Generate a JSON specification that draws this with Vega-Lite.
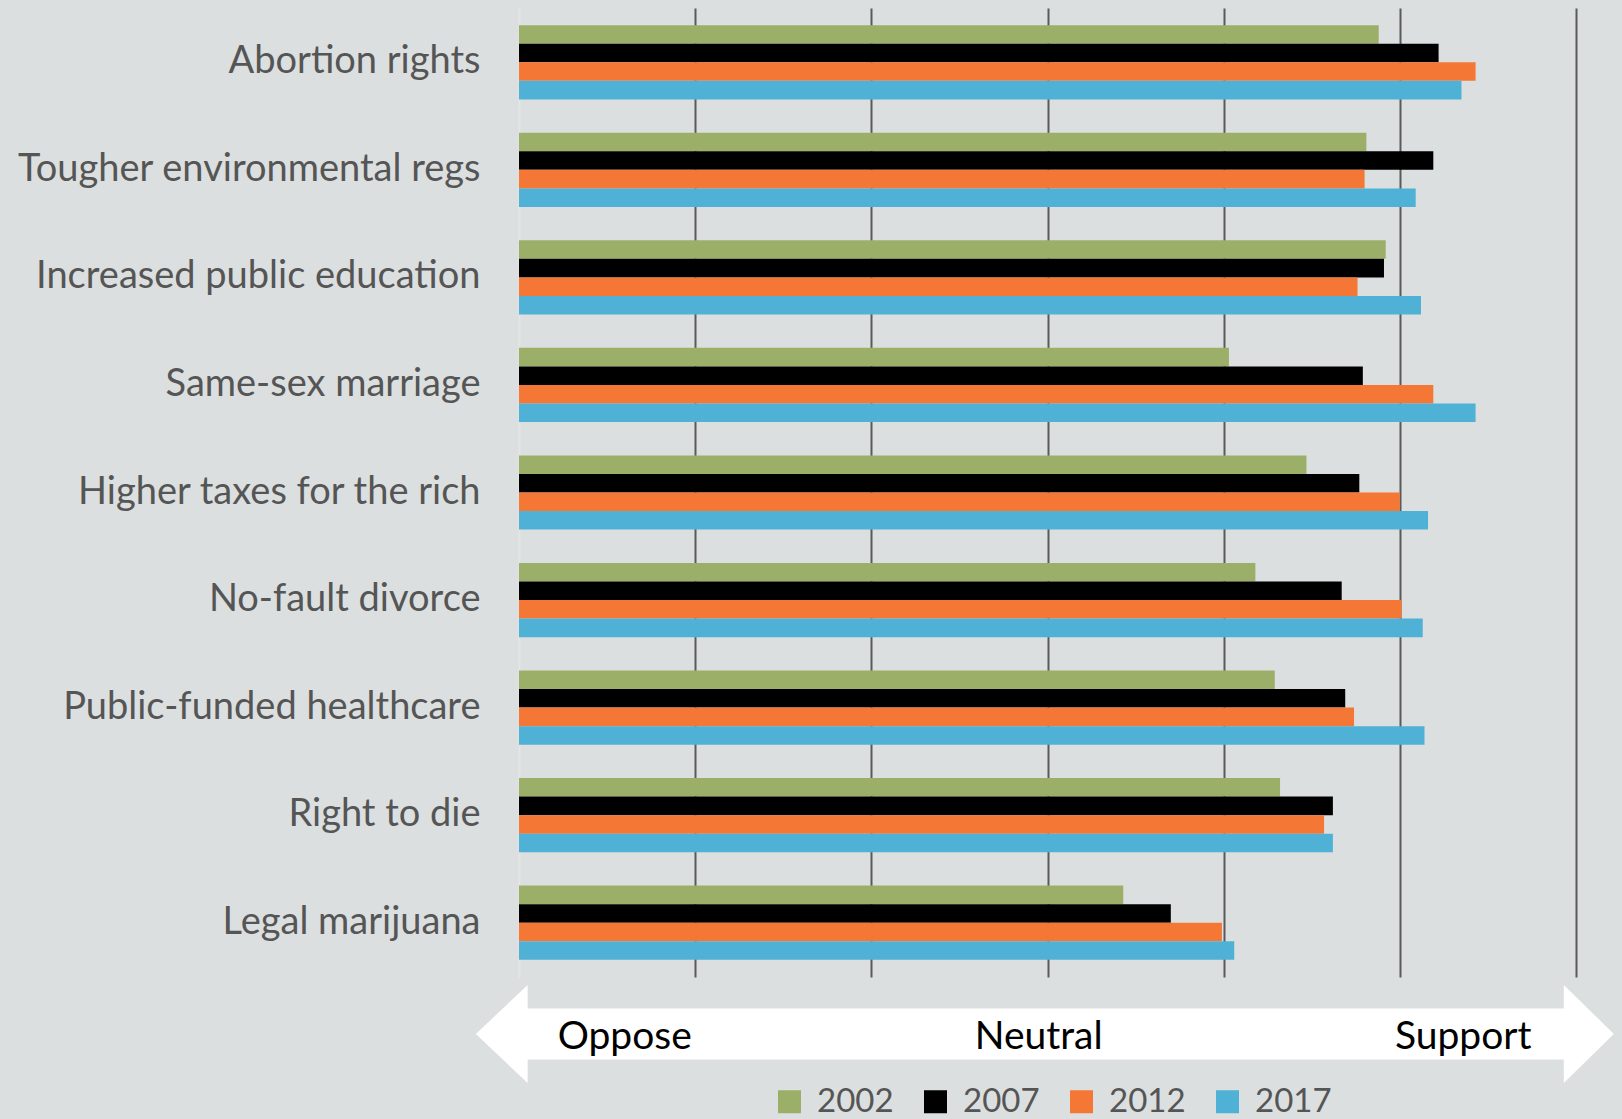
{
  "$schema": "https://vega.github.io/schema/vega-lite/v6.json",
  "width": 1057,
  "height": 969,
  "autosize": {"type": "none"},
  "padding": {"left": 519, "top": 8, "right": 46, "bottom": 142},
  "background": "#dcdfdf",
  "config": {
    "view": {"stroke": null, "fill": null},
    "font": "Lato"
  },
  "datasets": {
    "bars": [
      {"topic": "Abortion rights", "year": "2002", "value": 4.88},
      {"topic": "Abortion rights", "year": "2007", "value": 5.22},
      {"topic": "Abortion rights", "year": "2012", "value": 5.43},
      {"topic": "Abortion rights", "year": "2017", "value": 5.35},
      {"topic": "Tougher environmental regs", "year": "2002", "value": 4.81},
      {"topic": "Tougher environmental regs", "year": "2007", "value": 5.19},
      {"topic": "Tougher environmental regs", "year": "2012", "value": 4.80},
      {"topic": "Tougher environmental regs", "year": "2017", "value": 5.09},
      {"topic": "Increased public education", "year": "2002", "value": 4.92},
      {"topic": "Increased public education", "year": "2007", "value": 4.91},
      {"topic": "Increased public education", "year": "2012", "value": 4.76},
      {"topic": "Increased public education", "year": "2017", "value": 5.12},
      {"topic": "Same-sex marriage", "year": "2002", "value": 4.03},
      {"topic": "Same-sex marriage", "year": "2007", "value": 4.79},
      {"topic": "Same-sex marriage", "year": "2012", "value": 5.19},
      {"topic": "Same-sex marriage", "year": "2017", "value": 5.43},
      {"topic": "Higher taxes for the rich", "year": "2002", "value": 4.47},
      {"topic": "Higher taxes for the rich", "year": "2007", "value": 4.77},
      {"topic": "Higher taxes for the rich", "year": "2012", "value": 5.00},
      {"topic": "Higher taxes for the rich", "year": "2017", "value": 5.16},
      {"topic": "No-fault divorce", "year": "2002", "value": 4.18},
      {"topic": "No-fault divorce", "year": "2007", "value": 4.67},
      {"topic": "No-fault divorce", "year": "2012", "value": 5.01},
      {"topic": "No-fault divorce", "year": "2017", "value": 5.13},
      {"topic": "Public-funded healthcare", "year": "2002", "value": 4.29},
      {"topic": "Public-funded healthcare", "year": "2007", "value": 4.69},
      {"topic": "Public-funded healthcare", "year": "2012", "value": 4.74},
      {"topic": "Public-funded healthcare", "year": "2017", "value": 5.14},
      {"topic": "Right to die", "year": "2002", "value": 4.32},
      {"topic": "Right to die", "year": "2007", "value": 4.62},
      {"topic": "Right to die", "year": "2012", "value": 4.57},
      {"topic": "Right to die", "year": "2017", "value": 4.62},
      {"topic": "Legal marijuana", "year": "2002", "value": 3.43},
      {"topic": "Legal marijuana", "year": "2007", "value": 3.70},
      {"topic": "Legal marijuana", "year": "2012", "value": 3.99},
      {"topic": "Legal marijuana", "year": "2017", "value": 4.06}
    ],
    "arrow": [{"pos": 2.985, "lvl": -0.0588}],
    "scaleLabels": [
      {"label": "Oppose", "pos": 0.6, "lvl": -0.0615},
      {"label": "Neutral", "pos": 2.95, "lvl": -0.0615},
      {"label": "Support", "pos": 5.36, "lvl": -0.0615}
    ]
  },
  "layer": [
    {
      "data": {"name": "bars"},
      "mark": {"type": "bar", "cornerRadius": 0},
      "encoding": {
        "y": {
          "field": "topic",
          "type": "nominal",
          "sort": ["Abortion rights", "Tougher environmental regs", "Increased public education", "Same-sex marriage", "Higher taxes for the rich", "No-fault divorce", "Public-funded healthcare", "Right to die", "Legal marijuana"],
          "scale": {"paddingInner": 0.31, "paddingOuter": 0.16},
          "axis": {
            "title": null,
            "ticks": false,
            "labelPadding": 39,
            "labelFontSize": 38,
            "labelColor": "#555555",
            "labelFont": "Lato",
            "labelLimit": 600,
            "domainColor": "#e4e6e6",
            "domainWidth": 2
          }
        },
        "yOffset": {"field": "year", "type": "nominal", "sort": ["2002", "2007", "2012", "2017"]},
        "x": {
          "field": "value",
          "type": "quantitative",
          "scale": {"domain": [0, 6], "nice": false, "zero": true},
          "axis": {
            "title": null,
            "values": [1, 2, 3, 4, 5, 6],
            "labels": false,
            "ticks": false,
            "domain": false,
            "grid": true,
            "gridColor": "#5a5a5a",
            "gridWidth": 2
          }
        },
        "color": {
          "field": "year",
          "type": "nominal",
          "scale": {"domain": ["2002", "2007", "2012", "2017"], "range": ["#9caf69", "#000000", "#f57735", "#4fb1d6"]},
          "legend": {
            "title": null,
            "orient": "none",
            "direction": "horizontal",
            "legendX": 254,
            "legendY": 1077,
            "symbolType": "square",
            "symbolSize": 529,
            "symbolStrokeWidth": 0,
            "labelFontSize": 33,
            "labelColor": "#555555",
            "labelFont": "Lato",
            "labelOffset": 11,
            "columnPadding": 25
          }
        }
      }
    },
    {
      "data": {"name": "arrow"},
      "mark": {
        "type": "point",
        "filled": true,
        "opacity": 1,
        "color": "#ffffff",
        "shape": "M -1 0 L -0.909 -0.0861 L -0.909 -0.0448 L 0.912 -0.0448 L 0.912 -0.0861 L 1 0 L 0.912 0.0861 L 0.912 0.0448 L -0.909 0.0448 L -0.909 0.0861 Z"
      },
      "encoding": {
        "x": {"field": "pos", "type": "quantitative"},
        "y": {"field": "lvl", "type": "quantitative", "scale": {"domain": [0, 1], "nice": false, "zero": false}, "axis": null},
        "size": {"value": 1295044}
      }
    },
    {
      "data": {"name": "scaleLabels"},
      "mark": {"type": "text", "fontSize": 39, "color": "#000000", "font": "Lato", "baseline": "middle", "align": "center"},
      "encoding": {
        "x": {"field": "pos", "type": "quantitative"},
        "y": {"field": "lvl", "type": "quantitative", "scale": {"domain": [0, 1], "nice": false, "zero": false}, "axis": null},
        "text": {"field": "label"}
      }
    }
  ],
  "resolve": {"scale": {"y": "independent"}}
}
